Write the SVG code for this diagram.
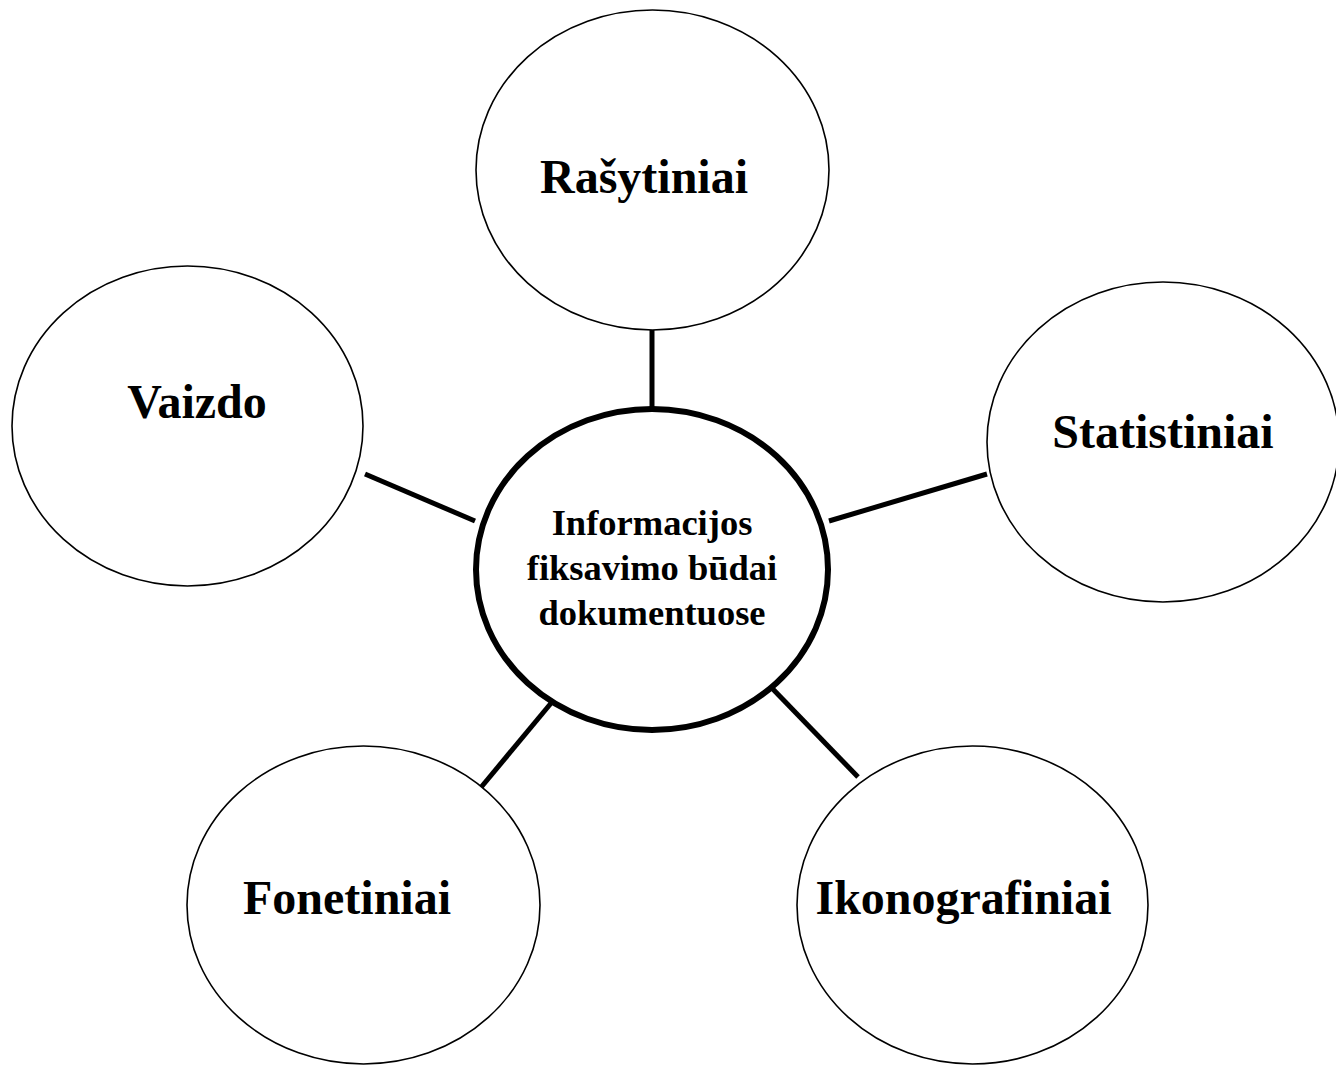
<svg xmlns="http://www.w3.org/2000/svg" width="1336" height="1066" viewBox="0 0 1336 1066">
<style>
.node { fill: #ffffff; stroke: #000000; stroke-width: 1.6; }
.hub { fill: #ffffff; stroke: #000000; stroke-width: 6; }
.conn { stroke: #000000; stroke-width: 5; stroke-linecap: butt; fill: none; }
.lbl { font-family: "Liberation Serif", "Times New Roman", serif; font-weight: bold; font-size: 48px; fill: #000000; text-anchor: middle; }
.hubtxt { font-family: "Liberation Serif", "Times New Roman", serif; font-weight: bold; font-size: 36.5px; fill: #000000; text-anchor: middle; }
</style>
<rect width="1336" height="1066" fill="#ffffff"/>
<g id="connectors">
<line class="conn" x1="652" y1="330" x2="652" y2="408"/>
<line class="conn" x1="365" y1="474" x2="475" y2="521"/>
<line class="conn" x1="829" y1="521" x2="987" y2="474"/>
<line class="conn" x1="478" y1="791" x2="552" y2="702"/>
<line class="conn" x1="767" y1="683" x2="858" y2="777"/>
</g>
<g id="node-rasytiniai">
<ellipse class="node" cx="652.5" cy="170" rx="176.5" ry="160"/>
<text class="lbl" x="644" y="193">Rašytiniai</text>
</g>
<g id="node-vaizdo">
<ellipse class="node" cx="187.5" cy="426" rx="175.5" ry="160"/>
<text class="lbl" x="197" y="418">Vaizdo</text>
</g>
<g id="node-statistiniai">
<ellipse class="node" cx="1163" cy="442" rx="176" ry="160"/>
<text class="lbl" x="1163" y="448">Statistiniai</text>
</g>
<g id="node-fonetiniai">
<ellipse class="node" cx="363.5" cy="905" rx="176.5" ry="159"/>
<text class="lbl" x="347" y="914">Fonetiniai</text>
</g>
<g id="node-ikonografiniai">
<ellipse class="node" cx="972.5" cy="905" rx="175.5" ry="159"/>
<text class="lbl" x="963.5" y="914">Ikonografiniai</text>
</g>
<g id="node-center">
<ellipse class="hub" cx="652" cy="569.5" rx="176" ry="160.5"/>
<text class="hubtxt" x="652" y="535">Informacijos</text>
<text class="hubtxt" x="652" y="580">fiksavimo būdai</text>
<text class="hubtxt" x="652" y="625">dokumentuose</text>
</g>
</svg>
